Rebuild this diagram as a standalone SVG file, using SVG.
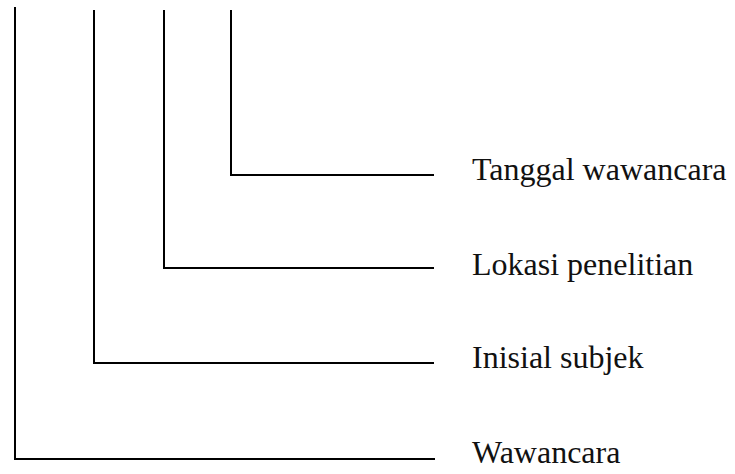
<svg xmlns="http://www.w3.org/2000/svg" width="735" height="474" viewBox="0 0 735 474">
  <style>
    .conn { fill: none; stroke: #000; stroke-width: 2; }
    .label { font-family: "Liberation Serif", "Times New Roman", serif; font-size: 32px; fill: #111; }
  </style>
  <rect width="735" height="474" fill="#fff"/>
  <g id="connectors">
    <polyline class="conn" points="15,7 15,459 435,459"/>
    <polyline class="conn" points="94,10 94,363 434,363"/>
    <polyline class="conn" points="164,10 164,268 434,268"/>
    <polyline class="conn" points="231,10 231,175 434,175"/>
  </g>
  <g id="tanggal">
    <text class="label" x="472" y="180">Tanggal wawancara</text>
  </g>
  <g id="lokasi">
    <text class="label" x="472" y="275">Lokasi penelitian</text>
  </g>
  <g id="inisial">
    <text class="label" x="472" y="368">Inisial subjek</text>
  </g>
  <g id="wawancara">
    <text class="label" x="472" y="463">Wawancara</text>
  </g>
</svg>
